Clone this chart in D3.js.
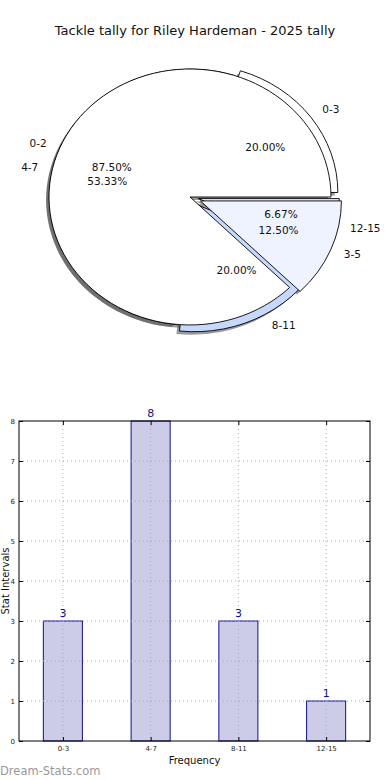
<!DOCTYPE html>
<html>
<head>
<meta charset="utf-8">
<script src="https://cdn.jsdelivr.net/npm/d3@7"></script>
<style>
  body { margin: 0; background: #fff; }
  svg { display: block; font-family: "DejaVu Sans", sans-serif; }
</style>
</head>
<body>
<svg width="390" height="780"></svg>
<script>
var WIDTH = 390;
var HEIGHT = 780;

// back pie (the tally by interval)
var backLabels = ['0-3', '4-7', '8-11', '12-15'];
var backValues = [3, 8, 3, 1];
var backColors = ['#ffffff', '#eef3ff', '#c6d9fd', '#eef3ff'];
var backExplode = [0.06, 0, 0.06, 0.06];

// front pie
var frontLabels = ['0-2', '3-5'];
var frontValues = [7, 1];
var frontColors = ['#ffffff', '#eef3ff'];
var frontExplode = [0, 0.08];

// bar chart
var barCategories = ['0-3', '4-7', '8-11', '12-15'];
var barValues = [3, 8, 3, 1];
var yTicks = [0, 1, 2, 3, 4, 5, 6, 7, 8];

var svg = d3.select('svg');

svg.append('text')
  .attr('x', 195)
  .attr('y', 35)
  .attr('text-anchor', 'middle')
  .style('font-size', '13px')
  .style('fill', '#111')
  .text('Tackle tally for Riley Hardeman - 2025 tally');

// ---- pie ----
var cx = 190, cy = 197, rx = 141, ry = 128;

// matplotlib style: start at 3 o'clock, go counter-clockwise
var pie = d3.pie().sort(null)
  .startAngle(Math.PI / 2)
  .endAngle(Math.PI / 2 - 2 * Math.PI);
var arc = d3.arc().innerRadius(0).outerRadius(1);

function build(labels, values, colors, explode) {
  var total = d3.sum(values);
  return pie(values).map(function(d, i) {
    var mid = (d.startAngle + d.endAngle) / 2;
    return {
      arc: d,
      label: labels[i],
      color: colors[i],
      pct: (100 * values[i] / total).toFixed(2) + '%',
      ux: Math.sin(mid),
      uy: -Math.cos(mid),
      e: explode[i]
    };
  });
}

var back = build(backLabels, backValues, backColors, backExplode);
var front = build(frontLabels, frontValues, frontColors, frontExplode);
var all = back.concat(front);

function place(d, k) {
  return [cx + rx * (k + d.e) * d.ux, cy + ry * (k + d.e) * d.uy];
}

var pieG = svg.append('g');

// shadows underneath everything
pieG.selectAll('path.shadow')
  .data(all)
  .enter()
  .append('path')
  .attr('class', 'shadow')
  .attr('d', function(d) { return arc(d.arc); })
  .attr('transform', function(d) {
    var p = place(d, 0);
    return 'translate(' + (p[0] - 3) + ',' + (p[1] + 3) + ') scale(' + rx + ',' + ry + ')';
  })
  .style('fill', '#555')
  .style('opacity', 0.6);

// back pie then front pie
pieG.selectAll('path.wedge')
  .data(all)
  .enter()
  .append('path')
  .attr('class', 'wedge')
  .attr('d', function(d) { return arc(d.arc); })
  .attr('transform', function(d) {
    var p = place(d, 0);
    return 'translate(' + p[0] + ',' + p[1] + ') scale(' + rx + ',' + ry + ')';
  })
  .attr('vector-effect', 'non-scaling-stroke')
  .style('fill', function(d) { return d.color; })
  .style('stroke', '#000')
  .style('stroke-width', 0.9)
  .style('stroke-linejoin', 'miter');

pieG.selectAll('text.name')
  .data(all)
  .enter()
  .append('text')
  .attr('class', 'name')
  .attr('x', function(d) { return place(d, 1.1)[0]; })
  .attr('y', function(d) { return place(d, 1.1)[1]; })
  .attr('dy', '0.35em')
  .attr('text-anchor', function(d) { return d.ux > 0 ? 'start' : 'end'; })
  .style('font-size', '10.5px')
  .style('fill', '#111')
  .text(function(d) { return d.label; });

pieG.selectAll('text.pct')
  .data(all)
  .enter()
  .append('text')
  .attr('class', 'pct')
  .attr('x', function(d) { return place(d, 0.6)[0]; })
  .attr('y', function(d) { return place(d, 0.6)[1]; })
  .attr('dy', '0.35em')
  .attr('text-anchor', 'middle')
  .style('font-size', '10.5px')
  .style('fill', '#111')
  .text(function(d) { return d.pct; });

// ---- bar chart ----
var plotLeft = 19, plotRight = 370, plotTop = 421, plotBottom = 741;

var xScale = d3.scaleBand()
  .domain(barCategories)
  .range([plotLeft, plotRight])
  .paddingInner(0.555)
  .paddingOuter(0.2775);

var yScale = d3.scaleLinear()
  .domain([0, 8])
  .range([plotBottom, plotTop]);

var barG = svg.append('g');

barG.selectAll('rect.bar')
  .data(barValues)
  .enter()
  .append('rect')
  .attr('class', 'bar')
  .attr('x', function(d, i) { return xScale(barCategories[i]); })
  .attr('y', function(d) { return yScale(d); })
  .attr('width', xScale.bandwidth())
  .attr('height', function(d) { return plotBottom - yScale(d); })
  .style('fill', '#ccccE6')
  .style('stroke', '#10108c')
  .style('stroke-width', 1);

// dotted grid over the bars
barG.selectAll('line.hgrid')
  .data(yTicks.slice(1, -1))
  .enter()
  .append('line')
  .attr('x1', plotLeft).attr('x2', plotRight)
  .attr('y1', function(d) { return yScale(d); })
  .attr('y2', function(d) { return yScale(d); })
  .style('stroke', '#aaa')
  .style('stroke-width', 1)
  .style('stroke-dasharray', '1,3');

barG.selectAll('line.vgrid')
  .data(barCategories)
  .enter()
  .append('line')
  .attr('x1', function(d) { return xScale(d) + xScale.bandwidth() / 2; })
  .attr('x2', function(d) { return xScale(d) + xScale.bandwidth() / 2; })
  .attr('y1', plotTop).attr('y2', plotBottom)
  .style('stroke', '#aaa')
  .style('stroke-width', 1)
  .style('stroke-dasharray', '1,3');

barG.selectAll('text.val')
  .data(barValues)
  .enter()
  .append('text')
  .attr('x', function(d, i) { return xScale(barCategories[i]) + xScale.bandwidth() / 2; })
  .attr('y', function(d) { return yScale(d) - 4; })
  .attr('text-anchor', 'middle')
  .style('font-size', '11px')
  .style('fill', '#10108c')
  .text(function(d) { return d; });

var leftAxis = d3.axisLeft(yScale).tickValues(yTicks).tickSize(-4).tickPadding(4);
var gy = barG.append('g')
  .attr('transform', 'translate(' + plotLeft + ',0)')
  .call(leftAxis);
var rightAxis = d3.axisRight(yScale).tickValues(yTicks).tickSize(-4).tickFormat('');
var gy2 = barG.append('g')
  .attr('transform', 'translate(' + plotRight + ',0)')
  .call(rightAxis);

var xCenters = d3.scalePoint()
  .domain(barCategories)
  .range([xScale(barCategories[0]) + xScale.bandwidth() / 2,
          xScale(barCategories[3]) + xScale.bandwidth() / 2]);
var bottomAxis = d3.axisBottom(xCenters).tickSize(-4).tickPadding(5);
var gx = barG.append('g')
  .attr('transform', 'translate(0,' + plotBottom + ')')
  .call(bottomAxis);
var topAxis = d3.axisTop(xCenters).tickSize(-4).tickFormat('');
var gx2 = barG.append('g')
  .attr('transform', 'translate(0,' + plotTop + ')')
  .call(topAxis);

[gy, gy2, gx, gx2].forEach(function(g) {
  g.select('.domain').remove();
  g.selectAll('.tick line').style('stroke', '#000');
  g.selectAll('.tick text')
    .style('font-family', '"DejaVu Sans", sans-serif')
    .style('font-size', '7px')
    .style('fill', '#222');
});

barG.append('rect')
  .attr('x', plotLeft).attr('y', plotTop)
  .attr('width', plotRight - plotLeft).attr('height', plotBottom - plotTop)
  .style('fill', 'none')
  .style('stroke', '#000')
  .style('stroke-width', 1);

svg.append('text')
  .attr('x', (plotLeft + plotRight) / 2)
  .attr('y', 764)
  .attr('text-anchor', 'middle')
  .style('font-size', '10px')
  .style('fill', '#111')
  .text('Frequency');

svg.append('text')
  .attr('transform', 'translate(9,' + (plotTop + plotBottom) / 2 + ') rotate(-90)')
  .attr('text-anchor', 'middle')
  .style('font-size', '10px')
  .style('fill', '#111')
  .text('Stat Intervals');

svg.append('text')
  .attr('x', 0)
  .attr('y', 775)
  .style('font-size', '11.5px')
  .style('fill', '#999')
  .text('Dream-Stats.com');
</script>
</body>
</html>
